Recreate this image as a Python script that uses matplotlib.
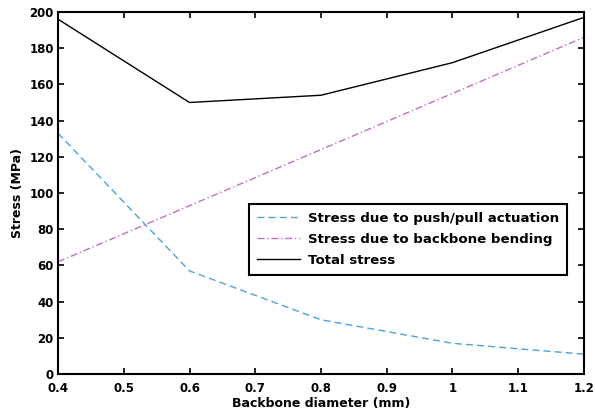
import matplotlib.pyplot as plt

# backbone diameter (mm) and stresses (MPa)
diameter = [0.4, 0.6, 0.8, 1.0, 1.2]
push_pull = [133, 57, 30, 17, 11]
bending = [62, 93, 124, 155, 186]
total = [196, 150, 154, 172, 197]

xticks = [0.4, 0.5, 0.6, 0.7, 0.8, 0.9, 1.0, 1.1, 1.2]
xticklabels = ['0.4', '0.5', '0.6', '0.7', '0.8', '0.9', '1', '1.1', '1.2']
yticks = [0, 20, 40, 60, 80, 100, 120, 140, 160, 180, 200]

plt.rcParams['font.family'] = 'DejaVu Sans'
plt.rcParams['font.weight'] = 'bold'

fig = plt.figure(figsize=(5.95, 4.12), dpi=100)
ax = fig.add_axes([0.0975, 0.092, 0.884, 0.879])

ax.plot(diameter, push_pull, color='#4ea3dc', linestyle=(0, (5, 3)), linewidth=1.0,
        label='Stress due to push/pull actuation')
ax.plot(diameter, bending, color='#bf6fc4', linestyle=(0, (5, 2, 1, 2)), linewidth=1.0,
        label='Stress due to backbone bending')
ax.plot(diameter, total, color='black', linestyle='-', linewidth=1.0,
        label='Total stress')

ax.set_xlim(0.4, 1.2)
ax.set_ylim(0, 200)
ax.set_xticks(xticks)
ax.set_xticklabels(xticklabels)
ax.set_yticks(yticks)
ax.tick_params(direction='in', top=True, right=True, length=4, width=1.2,
               labelsize=8.5)
ax.tick_params(axis='x', pad=6)
ax.tick_params(axis='y', pad=3)
for s in ax.spines.values():
    s.set_linewidth(1.5)

ax.set_xlabel('Backbone diameter (mm)', fontsize=9, fontweight='bold', labelpad=1)
ax.set_ylabel('Stress (MPa)', fontsize=9, fontweight='bold', labelpad=4)

leg = ax.legend(loc='lower right', bbox_to_anchor=(0.968, 0.2735), fontsize=9.6,
                frameon=True, fancybox=False, edgecolor='black', framealpha=1,
                handlelength=3.2, handletextpad=0.6, borderpad=0.6,
                labelspacing=0.6, borderaxespad=0)
leg.get_frame().set_linewidth(1.5)

plt.savefig('out.png')
plt.close(fig)
